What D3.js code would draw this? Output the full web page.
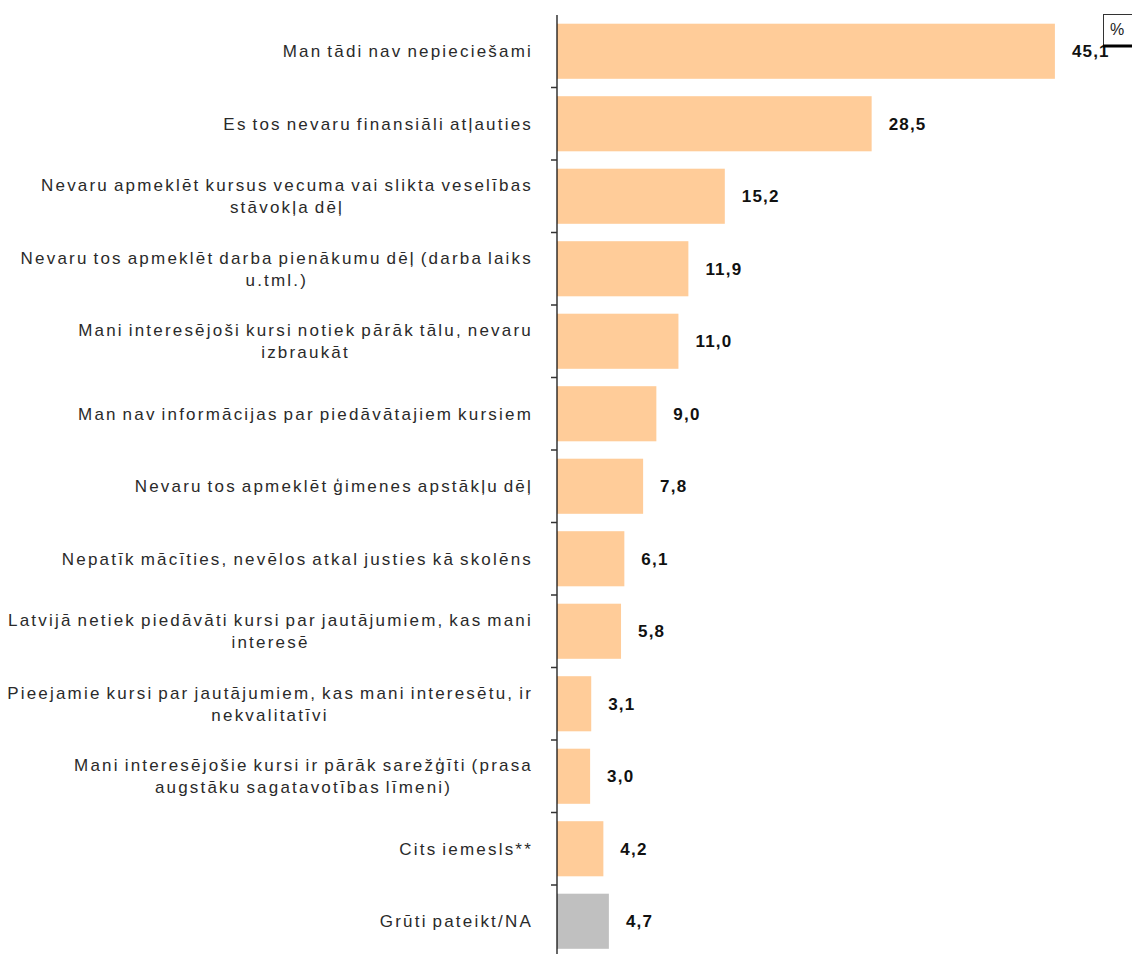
<!DOCTYPE html>
<html>
<head>
<meta charset="utf-8">
<script src="https://cdn.jsdelivr.net/npm/d3@7"></script>
<style>
  html, body { margin: 0; padding: 0; background: #fff; }
  svg { display: block; }
  text { font-family: "Liberation Sans", Arial, sans-serif; }
</style>
</head>
<body>
<svg id="chart" width="1132" height="954"></svg>
<script>
const categories = [
  ["Man tādi nav nepieciešami"],
  ["Es tos nevaru finansiāli atļauties"],
  ["Nevaru apmeklēt kursus vecuma vai slikta veselības", "stāvokļa dēļ"],
  ["Nevaru tos apmeklēt darba pienākumu dēļ (darba laiks", "u.tml.)"],
  ["Mani interesējoši kursi notiek pārāk tālu, nevaru", "izbraukāt"],
  ["Man nav informācijas par piedāvātajiem kursiem"],
  ["Nevaru tos apmeklēt ģimenes apstākļu dēļ"],
  ["Nepatīk mācīties, nevēlos atkal justies kā skolēns"],
  ["Latvijā netiek piedāvāti kursi par jautājumiem, kas mani", "interesē"],
  ["Pieejamie kursi par jautājumiem, kas mani interesētu, ir", "nekvalitatīvi"],
  ["Mani interesējošie kursi ir pārāk sarežģīti (prasa", "augstāku sagatavotības līmeni)"],
  ["Cits iemesls**"],
  ["Grūti pateikt/NA"]
];
const values = [45.1, 28.5, 15.2, 11.9, 11.0, 9.0, 7.8, 6.1, 5.8, 3.1, 3.0, 4.2, 4.7];
const barColors = ["#FFCC99","#FFCC99","#FFCC99","#FFCC99","#FFCC99","#FFCC99","#FFCC99","#FFCC99","#FFCC99","#FFCC99","#FFCC99","#FFCC99","#C0C0C0"];
const unitLabel = "%";

const svg = d3.select("#chart");
const ids = categories.map((c, i) => i);

const x = d3.scaleLinear().domain([0, 50]).range([557, 1109]);
const y = d3.scaleBand().domain(ids).range([15, 957.5]).paddingInner(0.24).paddingOuter(0.12);

// bars
svg.append("g").selectAll("rect").data(ids).join("rect")
  .attr("x", x(0))
  .attr("y", i => y(i))
  .attr("width", i => x(values[i]) - x(0))
  .attr("height", y.bandwidth())
  .attr("fill", i => barColors[i]);

// axis line and ticks between categories
const axisG = svg.append("g");
axisG.append("line")
  .attr("x1", x(0)).attr("x2", x(0))
  .attr("y1", 15).attr("y2", 954)
  .attr("stroke", "#000").attr("stroke-width", 1.2);
axisG.selectAll(".tk").data(ids.slice(1)).join("line")
  .attr("x1", x(0) - 6).attr("x2", x(0))
  .attr("y1", i => y(i) - y.step() * y.paddingInner() / 2)
  .attr("y2", i => y(i) - y.step() * y.paddingInner() / 2)
  .attr("stroke", "#333").attr("stroke-width", 1.5);

// category labels: block right-aligned, lines centered
const labelRight = 533;
const lineH = 22;
const lg = svg.append("g");
ids.forEach(i => {
  const lines = categories[i];
  const cy = y(i) + y.bandwidth() / 2;
  const g = lg.append("g");
  const texts = lines.map((t, k) => g.append("text")
    .attr("y", cy + (k - (lines.length - 1) / 2) * lineH)
    .attr("dy", "0.35em")
    .attr("font-size", 17)
    .attr("letter-spacing", "2.2px")
    .attr("word-spacing", "-2px")
    .attr("fill", "#2a2a2a")
    .text(t));
  const widths = texts.map(t => t.node().getComputedTextLength());
  const maxW = d3.max(widths);
  const center = labelRight - maxW / 2;
  texts.forEach(t => t.attr("x", center).attr("text-anchor", "middle"));
});

// value labels
svg.append("g").selectAll("text").data(ids).join("text")
  .attr("x", i => x(values[i]) + 17)
  .attr("y", i => y(i) + y.bandwidth() / 2)
  .attr("dy", "0.35em")
  .attr("font-size", 17)
  .attr("font-weight", "bold")
  .attr("letter-spacing", "1.2px")
  .attr("fill", "#111")
  .text(i => values[i].toFixed(1).replace(".", ","));

// unit box
const ub = svg.append("g");
ub.append("rect").attr("x", 1103.5).attr("y", 14.5).attr("width", 40).attr("height", 31)
  .attr("fill", "#fff").attr("stroke", "#333").attr("stroke-width", 1);
ub.append("line").attr("x1", 1103).attr("x2", 1132).attr("y1", 46).attr("y2", 46)
  .attr("stroke", "#000").attr("stroke-width", 3);
ub.append("text").attr("x", 1117).attr("y", 29).attr("dy", "0.35em")
  .attr("text-anchor", "middle").attr("font-size", 16).attr("fill", "#222").text(unitLabel);
</script>
</body>
</html>
